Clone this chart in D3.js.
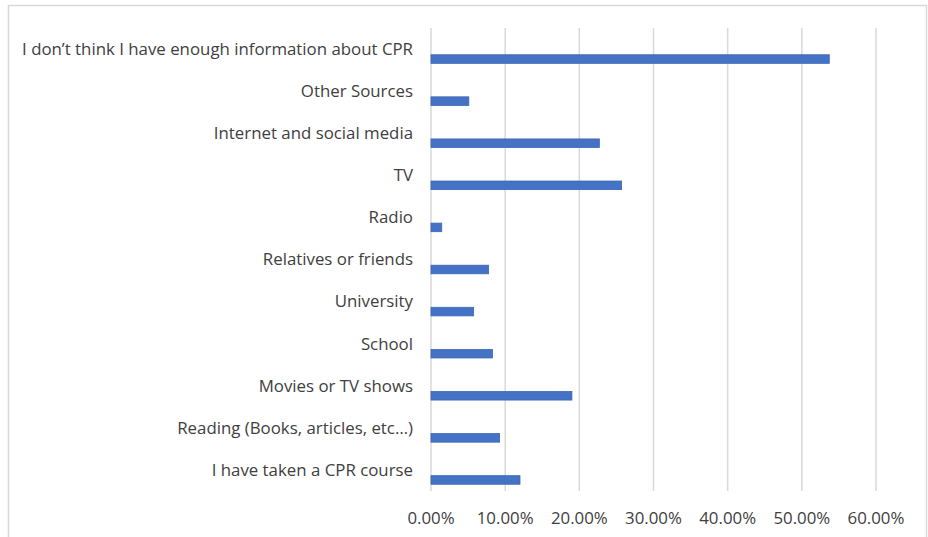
<!DOCTYPE html>
<html>
<head>
<meta charset="utf-8">
<script src="https://cdn.jsdelivr.net/npm/d3@7"></script>
<style>
  html, body { margin: 0; padding: 0; background: #fff; }
  svg { display: block; }
</style>
</head>
<body>
<svg id="chart" width="928" height="537"></svg>
<script>
const categories = [
  "I don\u2019t think I have enough information about CPR",
  "Other Sources",
  "Internet and social media",
  "TV",
  "Radio",
  "Relatives or friends",
  "University",
  "School",
  "Movies or TV shows",
  "Reading (Books, articles, etc\u2026)",
  "I have taken a CPR course"
];
const values = [0.537, 0.051, 0.227, 0.257, 0.0145, 0.0777, 0.0575, 0.083, 0.190, 0.0925, 0.120];
const tickValues = [0, 0.1, 0.2, 0.3, 0.4, 0.5, 0.6];

const W = 928, H = 537;
const margin = { left: 431, right: 52, top: 28, bottom: 46 };
const svg = d3.select("#chart");
const font = "'Open Sans', 'Liberation Sans', sans-serif";
const textColor = "#404040";

// frame
svg.append("rect")
  .attr("x", 8.5).attr("y", 5.5)
  .attr("width", 918).attr("height", 540)
  .attr("fill", "none").attr("stroke", "#d9d9d9").attr("stroke-width", 1.5);

const x = d3.scaleLinear().domain([0, 0.6]).range([margin.left, margin.left + 445]);
const y = d3.scaleBand().domain(categories).range([margin.top, H - margin.bottom]).padding(0);

// gridlines
svg.append("g")
  .selectAll("line").data(tickValues).join("line")
  .attr("x1", d => x(d)).attr("x2", d => x(d))
  .attr("y1", y.range()[0]).attr("y2", y.range()[1])
  .attr("stroke", "#d9d9d9").attr("stroke-width", 1.5);

// bars (offset within the band like Excel's second empty series)
const barH = 8.6;
const barOffset = 10;
svg.append("g")
  .selectAll("rect").data(values).join("rect")
  .attr("x", x(0))
  .attr("y", (d, i) => y(categories[i]) + y.bandwidth() / 2 + barOffset - barH / 2)
  .attr("width", d => x(d) - x(0))
  .attr("height", barH)
  .attr("fill", "#4472C4")
  .attr("stroke", "#3d68b8")
  .attr("stroke-width", 0.8);

// category labels
const labels = svg.append("g")
  .selectAll("text").data(categories).join("text")
  .attr("x", 413)
  .attr("y", d => y(d) + y.bandwidth() / 2)
  .attr("dy", "0.35em")
  .attr("text-anchor", "end")
  .attr("font-family", font)
  .attr("font-size", 15)
  .attr("fill", textColor)
  .text(d => d);

// fit font size so that the longest label is ~391px wide
const longest = labels.nodes()[0].getComputedTextLength();
const fs = 15 * 391 / longest;
labels.attr("font-size", fs);

// x tick labels
svg.append("g")
  .selectAll("text").data(tickValues).join("text")
  .attr("x", d => x(d))
  .attr("y", 518)
  .attr("dy", "0.35em")
  .attr("text-anchor", "middle")
  .attr("font-family", font)
  .attr("font-size", fs)
  .attr("fill", textColor)
  .text(d => d3.format(".2%")(d));
</script>
</body>
</html>
